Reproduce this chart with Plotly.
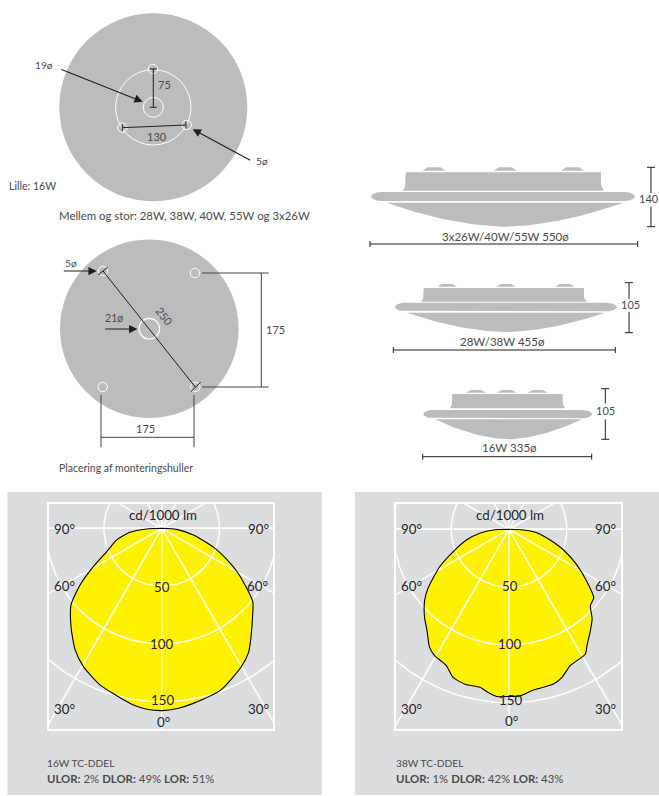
import numpy as np
import plotly.graph_objects as go

W, H = 659, 796

# ---- Light distribution data (angle from nadir in degrees, cd/1000 lm) ----
angles_16w_right = [0, 5, 10, 20, 30, 35, 38.6, 41.5, 45, 51, 54.8, 60, 64.5, 70, 78, 86, 90]
cd_16w_right = [157.7, 156.5, 154, 149, 138, 131, 123.4, 117.4, 111, 101.5, 90, 75.5, 62.3, 47.6, 28, 13, 0]
angles_16w_left = [0, 4.7, 9.1, 15, 21.5, 29.5, 35.5, 42.7, 49.8, 55.2, 60.7, 67, 75.5, 82.8, 87.5, 90]
cd_16w_left = [157.7, 157, 154.8, 150, 145.6, 137.5, 129, 115.7, 102.7, 86, 67.8, 51.6, 40.2, 27.7, 13, 0]

angles_38w_right = [0, 3.8, 8, 16, 19.7, 24.2, 31.5, 33.9, 38.8, 42.9, 46.9, 51.1, 56, 62.2, 69.2, 75.4, 83.1, 87.3, 90]
cd_38w_right = [144.6, 144.4, 141, 139.3, 136, 129.3, 126.5, 121, 112.4, 105.6, 96.4, 94.2, 81.5, 66.5, 50.5, 36.8, 24.2, 12.5, 0]
angles_38w_left = [0, 4.2, 7.3, 10.4, 15.9, 20.7, 24.7, 30.5, 34, 39, 43.9, 49.9, 53.8, 61.6, 68.1, 75.9, 82.1, 87.6, 90]
cd_38w_left = [144.6, 145, 142.3, 139, 139.3, 137, 129.8, 126.8, 123, 112.7, 105.4, 95.4, 87, 68.2, 52.2, 38, 25.5, 13.6, 0]

grid_radii = [50, 100, 150]
grid_angles = [0, 30, 60, 90]

GREY = "#bbbcbe"
PANEL = "#dcddde"
YELLOW = "#fff200"
TXT = "#4a4a4a"
DIM = "#1e1e1e"
FONT = "Lato"

fig = go.Figure()
shapes = []
annos = []


def label(x, y, s, size=10.6, color=TXT, anchor="center", angle=0):
    annos.append(dict(x=x, y=y, xref="x", yref="y", text=s, showarrow=False, xanchor=anchor,
                      yanchor="middle", textangle=angle, borderpad=0, borderwidth=0,
                      font=dict(family=FONT, size=size, color=color)))


def circle(cx, cy, r, fill=None, line="white", w=1.0):
    shapes.append(dict(type="circle", xref="x", yref="y", x0=cx - r, x1=cx + r, y0=cy - r, y1=cy + r,
                       fillcolor=fill if fill else "rgba(0,0,0,0)",
                       line=dict(color=line if line else "rgba(0,0,0,0)", width=w), layer="below"))


def seg(xs, ys, color=DIM, w=1.0):
    fig.add_trace(go.Scatter(x=xs, y=ys, mode="lines", line=dict(color=color, width=w),
                             hoverinfo="skip", showlegend=False, xaxis="x", yaxis="y"))


def arrow(x0, y0, x1, y1):
    annos.append(dict(x=x1, y=y1, ax=x0, ay=y0, xref="x", yref="y", axref="x", ayref="y", text="",
                      showarrow=True, arrowhead=2, arrowsize=1.5, arrowwidth=1.1, arrowcolor=DIM))


def fill_poly(xs, ys, color=GREY):
    fig.add_trace(go.Scatter(x=xs, y=ys, mode="lines", fill="toself", fillcolor=color,
                             line=dict(width=0, color=color), hoverinfo="skip", showlegend=False,
                             xaxis="x", yaxis="y"))


# ---- Grey panels ----
for x0, x1 in [(7.3, 322), (355, 659)]:
    shapes.append(dict(type="rect", xref="x", yref="y", x0=x0, x1=x1, y0=492, y1=795,
                       fillcolor=PANEL, line=dict(width=0), layer="below"))

# ---- Top disc ----
circle(153.3, 107.3, 94, fill=GREY, line=None)
circle(153.3, 107.3, 37.7)
circle(153.3, 107.3, 10)
for cx, cy in [(153, 69), (122.3, 127.7), (186.7, 125)]:
    circle(cx, cy, 4.7)
seg([153.3, 153.3], [69, 107.3])
seg([149.8, 156.8], [69, 69], w=1.2)
seg([149.8, 156.8], [107.3, 107.3])
seg([122.3, 186], [127.7, 125])
seg([122.3, 122.3], [124.2, 131.2])
seg([186, 186], [121.5, 128.5])
arrow(60, 69, 142.7, 101.7)
arrow(251.7, 161, 192.7, 129.3)
label(44.3, 65, "19ø", 10.2)
label(164.3, 84.3, "75", 11)
label(156.7, 136, "130", 11)
label(262.3, 161.3, "5ø", 10.2)
label(9, 186, "Lille: 16W", anchor="left")
label(59.3, 215, "Mellem og stor: 28W, 38W, 40W, 55W og 3x26W", 11.4, anchor="left")

# ---- Mounting disc ----
circle(149.3, 328.7, 89.3, fill=GREY, line=None)
circle(149.3, 328.7, 10.3, w=1.2)
for cx, cy in [(103, 271), (195, 273), (102.7, 387), (195.3, 387)]:
    circle(cx, cy, 4.7)
seg([103, 195.3], [271, 387])
seg([98, 107.7], [275, 267.3])
seg([190.7, 200.7], [391.7, 382.3])
seg([202, 268.7], [273, 273], "#444444")
seg([202, 268.7], [387, 387], "#444444")
seg([261.3, 261.3], [273, 387], "#444444")
seg([101, 101], [395, 447.3], "#444444")
seg([194, 194], [395, 447.3], "#444444")
seg([101, 194], [437.3, 437.3], "#444444")
arrow(62.3, 271, 96.7, 271)
arrow(103.7, 329, 137.3, 329)
label(70.7, 263.3, "5ø", 10.2)
label(114.3, 318.3, "21ø", 10.6)
label(165, 316, "250", 11, angle=52)
label(275, 329, "175", 11)
label(145.7, 428.3, "175", 11)
label(59.3, 468.3, "Placering af monteringshuller", 10.5, anchor="left")


# ---- Side views of the luminaires ----
def lamp(rim_l, rim_r, rim_t, rim_b, body_l, body_r, body_t, body_s, flare, body_b,
         knobs, knob_t, knob_b, half_base, half_top, bowl_l, bowl_r, bowl_t, bowl_b):
    for c in knobs:
        fill_poly([c - half_base, c - half_top, c + half_top, c + half_base, c - half_base],
                  [knob_b, knob_t, knob_t, knob_b, knob_b])
    t = np.linspace(0, 1, 8)
    lx = body_l - flare * t ** 2
    rx = body_r + flare * t ** 2
    fy = body_s + (body_b - body_s) * t
    fill_poly(np.r_[body_l, lx, rx[::-1], body_r, body_l],
              np.r_[body_t, fy, fy[::-1], body_t, body_t])
    th = np.linspace(-np.pi / 2, np.pi / 2, 14)
    rh = (rim_b - rim_t) / 2
    cy = (rim_t + rim_b) / 2
    end = rh * 2.4
    xs = np.r_[rim_r - end + end * np.cos(th), rim_l + end - end * np.cos(th[::-1]), rim_r - end]
    ys = np.r_[cy + rh * np.sin(th), cy - rh * np.sin(th), cy - rh]
    fill_poly(xs, ys)
    u = np.linspace(-1, 1, 41)
    cx = (bowl_l + bowl_r) / 2
    hw = (bowl_r - bowl_l) / 2
    fill_poly(np.r_[cx + hw * u, bowl_l], np.r_[bowl_b - (bowl_b - bowl_t) * np.abs(u) ** 1.75, bowl_t])


def vdim(x, y0, y1, y2, y3, txt, tx, ty, size=11):
    seg([x, x], [y0, y1])
    seg([x, x], [y2, y3])
    seg([x - 4, x + 4], [y0, y0])
    seg([x - 4, x + 4], [y3, y3])
    label(tx, ty, txt, size)


def hdim(x0, x1, y, txt, tx, ty):
    seg([x0, x1], [y, y])
    seg([x0, x0], [y - 3, y + 3])
    seg([x1, x1], [y - 3, y + 3])
    label(tx, ty, txt, 11.5)


lamp(371, 635, 192, 201, 405.7, 601, 172.3, 183.3, 3, 190.7, [434, 505.3, 572.7], 167.3, 170.7, 11.5, 6.5,
     386.7, 623.3, 202.7, 226.7)
vdim(651, 167.3, 193, 206.7, 226.7, "140", 649, 198.3)
hdim(370, 637.7, 244, "3x26W/40W/55W 550ø", 505, 236)

lamp(395, 616.7, 302.7, 311.3, 423.7, 584, 288, 296.7, 3, 301.7, [447.3, 506, 565], 284, 286.7, 9.5, 5.5,
     406.7, 605, 312.7, 332)
vdim(629, 282.7, 299.3, 311.7, 332.7, "105", 630, 304.3)
hdim(393.3, 615.3, 350, "28W/38W 455ø", 502, 341)

lamp(423.3, 592, 410, 418.3, 452.3, 562.7, 394, 401.7, 2.5, 408.3, [476, 506.7, 537.7], 390, 392.7, 10, 5,
     435, 581.7, 419.3, 439.3)
vdim(605.3, 388.7, 403.3, 419.3, 439.3, "105", 605.3, 410)
hdim(422.7, 591.7, 456.7, "16W 335ø", 509, 447.7)

# ---- Polar diagrams in their own clipped axes (units: cd/1000 lm) ----
PX_PER_CD = 1.156


def polar_panel(ax, box, centre, a_r, c_r, a_l, c_l):
    x0, x1, y0, y1 = box
    cx, cy = centre
    xname, yname = f"x{ax}", f"y{ax}"
    fig.layout[f"xaxis{ax}"] = dict(domain=[x0 / W, x1 / W], range=[(x0 - cx) / PX_PER_CD, (x1 - cx) / PX_PER_CD],
                                    showgrid=False, zeroline=False, showticklabels=False, ticks="",
                                    showline=True, linecolor="white", linewidth=1.5, mirror=True, anchor=yname)
    fig.layout[f"yaxis{ax}"] = dict(domain=[1 - y1 / H, 1 - y0 / H], range=[(cy - y1) / PX_PER_CD, (cy - y0) / PX_PER_CD],
                                    showgrid=False, zeroline=False, showticklabels=False, ticks="",
                                    showline=True, linecolor="white", linewidth=1.5, mirror=True, anchor=xname)
    ar = np.radians(a_r)
    al = np.radians(a_l)
    xs = np.r_[np.array(c_r) * np.sin(ar), (-np.array(c_l) * np.sin(al))[::-1]]
    ys = np.r_[-np.array(c_r) * np.cos(ar), (-np.array(c_l) * np.cos(al))[::-1]]
    curve = dict(shape="spline", smoothing=0.6)
    fig.add_trace(go.Scatter(x=xs, y=ys, mode="lines", fill="toself", fillcolor=YELLOW,
                             line=dict(color=YELLOW, width=0, **curve), hoverinfo="skip", showlegend=False,
                             xaxis=xname, yaxis=yname))
    gx, gy = [], []
    th = np.linspace(0, 2 * np.pi, 361)
    for r in grid_radii:
        gx += list(r * np.sin(th)) + [None]
        gy += list(r * np.cos(th)) + [None]
    far = 400
    for a in grid_angles:
        s, c = np.sin(np.radians(a)), np.cos(np.radians(a))
        gx += [-far * s, far * s, None]
        gy += [far * c, -far * c, None]
        gx += [far * s, -far * s, None] if a else []
        gy += [far * c, -far * c, None] if a else []
    fig.add_trace(go.Scatter(x=gx, y=gy, mode="lines", line=dict(color="white", width=1.4), hoverinfo="skip",
                             showlegend=False, xaxis=xname, yaxis=yname))
    fig.add_trace(go.Scatter(x=xs, y=ys, mode="lines", line=dict(color="black", width=1.1, **curve), hoverinfo="skip",
                             showlegend=False, xaxis=xname, yaxis=yname))


polar_panel(2, (48.7, 273.3, 504.3, 729), (161.7, 528.3), angles_16w_right, cd_16w_right, angles_16w_left, cd_16w_left)
polar_panel(3, (395.7, 621.3, 504, 728.7), (509, 529.3), angles_38w_right, cd_38w_right, angles_38w_left, cd_38w_left)

POLAR_TXT = "#222222"
for items in [
    [(162.7, 515.3, "cd/1000 lm"), (64, 529.3, "90°"), (258.3, 529.3, "90°"), (64, 586, "60°"), (257.7, 586, "60°"),
     (162.3, 586.7, "50"), (161.7, 644, "100"), (162.3, 700, "150"), (64, 709, "30°"), (258.3, 709, "30°"),
     (163.3, 721.7, "0°")],
    [(510, 515.3, "cd/1000 lm"), (411.7, 529.3, "90°"), (605.7, 529.3, "90°"), (411.7, 585.7, "60°"), (605, 585.7, "60°"),
     (510, 585.7, "50"), (509, 644, "100"), (510, 700, "150"), (411, 709, "30°"), (605.7, 709, "30°"),
     (511, 721, "0°")],
]:
    for x, y, s in items:
        label(x, y, s, 13.3, POLAR_TXT)

label(46.7, 763.3, "16W TC-DDEL", 10.2, anchor="left")
label(46.7, 778.7, "<b>ULOR:</b> 2% <b>DLOR:</b> 49% <b>LOR:</b> 51%", 11.4, anchor="left")
label(395.7, 763.3, "38W TC-DDEL", 10.2, anchor="left")
label(395.7, 778.7, "<b>ULOR:</b> 1% <b>DLOR:</b> 42% <b>LOR:</b> 43%", 11.4, anchor="left")

fig.update_layout(
    width=W, height=H, margin=dict(l=0, r=0, t=0, b=0), paper_bgcolor="white", plot_bgcolor="rgba(0,0,0,0)",
    showlegend=False, shapes=shapes, annotations=annos,
    xaxis=dict(domain=[0, 1], range=[0, W], visible=False, fixedrange=True),
    yaxis=dict(domain=[0, 1], range=[H, 0], visible=False, fixedrange=True),
)
fig.write_html("out.html", config={"displayModeBar": False},
               post_script="document.body.style.margin='0';document.documentElement.style.overflow='hidden';")
